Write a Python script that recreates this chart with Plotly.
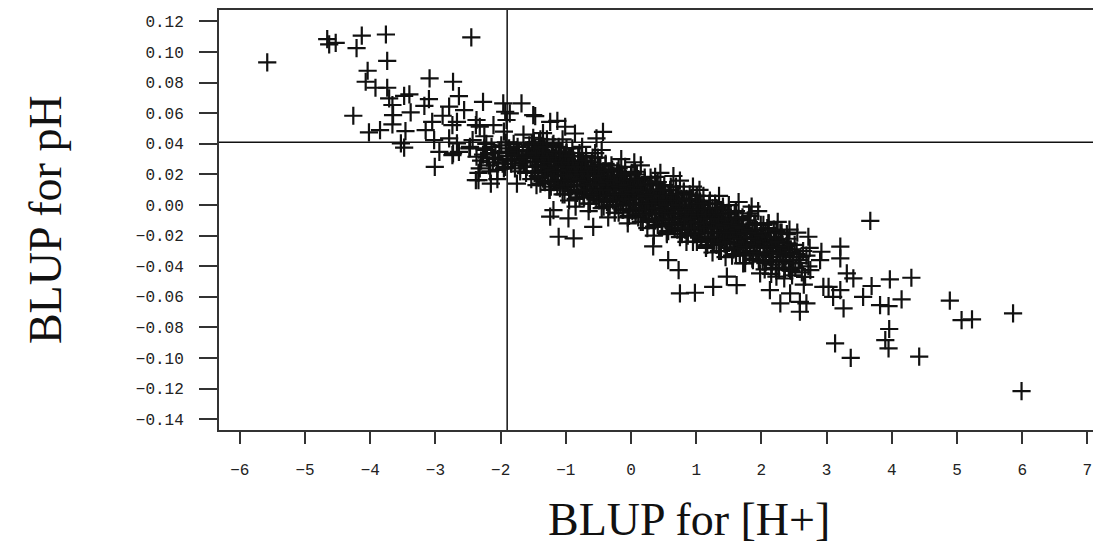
import plotly.graph_objects as go

# reference lines
ref_x = -1.9
ref_y = 0.041

# axis ticks
x_ticks = [-6, -5, -4, -3, -2, -1, 0, 1, 2, 3, 4, 5, 6, 7]
y_ticks = [-0.14, -0.12, -0.10, -0.08, -0.06, -0.04, -0.02, 0.00,
           0.02, 0.04, 0.06, 0.08, 0.10, 0.12]

# scattered points (upper-left arm)
upper_x = [-5.58, -4.66, -4.63, -4.53, -4.13, -4.21, -3.76, -3.74, -2.45, -4.04,
           -4.07, -3.92, -3.74, -3.71, -3.66, -3.48, -3.40, -3.09, -2.73, -2.64,
           -3.10, -3.17, -2.79, -2.56, -3.38, -3.65, -4.26, -2.89, -3.66, -3.46,
           -4.02, -3.85, -3.15, -3.05, -2.74, -2.67, -3.53, -3.48, -3.01, -3.02,
           -2.94, -2.74, -2.64, -2.48, -2.38, -2.79, -2.43, -2.38,
           -2.27, -1.96, -1.68, -1.93, -2.37, -2.32, -2.11, -1.91, -2.47, -2.37,
           -2.73, -2.67, -2.34, -1.86, -1.47, -1.24, -1.13, -1.01, -0.86, -0.43,
           -0.53, -1.50]
upper_y = [0.0933, 0.1085, 0.1050, 0.1060, 0.1107, 0.1026, 0.1115, 0.0943, 0.1096, 0.0878,
           0.0806, 0.0767, 0.0767, 0.0697, 0.0654, 0.0714, 0.0723, 0.0828, 0.0806, 0.0712,
           0.0693, 0.0649, 0.0643, 0.0621, 0.0606, 0.0588, 0.0584, 0.0584, 0.0527, 0.0484,
           0.0475, 0.0490, 0.0490, 0.0544, 0.0523, 0.0544, 0.0403, 0.0375, 0.0250, 0.0425,
           0.0348, 0.0327, 0.0348, 0.0370, 0.0523, 0.0436, 0.0425, 0.0163,
           0.0675, 0.0665, 0.0665, 0.0610, 0.0556, 0.0512, 0.0523, 0.0556, 0.0380, 0.0316,
           0.0338, 0.0403, 0.0163, 0.0600, 0.0582, 0.0544, 0.0550, 0.0512, 0.0468, 0.0479,
           0.0436, 0.0588]

# scattered points round the band and the lower-right tail
tail_x = [-1.11, -0.88, -0.96, -1.19, -1.24, -0.58,
          0.06, 0.37, 0.65, 1.06, 1.39, 1.81, 2.11, 2.72, 2.92,
          0.75, 0.98, 1.26, 0.73, 0.57, 0.34, 1.62, 1.47, 2.23, 2.29, 2.75, 2.95, 3.10,
          3.67, 3.21, 3.97, 4.30, 3.69, 3.56, 3.82, 3.95, 4.15, 4.89, 5.07, 5.23,
          5.86, 5.99, 3.13, 3.37, 3.96, 3.90, 3.95, 4.42, 2.59, 2.69, 3.03, 3.21,
          3.26, 3.31, 3.41, 2.90, 3.21, 2.44, 2.13, 2.44, 2.59, 1.93, 2.08, 2.34,
          2.59, 1.72, 1.98, 1.37, 1.52]
tail_y = [-0.0207, -0.0218, -0.0087, -0.0033, -0.0076, -0.0142,
          0.0218, 0.0185, 0.0190, 0.0022, -0.0033, -0.0054, -0.0120, -0.0207, -0.0305,
          -0.0577, -0.0573, -0.0534, -0.0425, -0.0360, -0.0270, -0.0523, -0.0468, -0.0468,
          -0.0643, -0.0425, -0.0534, -0.0600,
          -0.0103, -0.0272, -0.0486, -0.0475, -0.0529, -0.0600, -0.0654, -0.0660, -0.0616,
          -0.0625, -0.0752, -0.0747, -0.0708, -0.1216, -0.0904, -0.0998, -0.0810, -0.0882,
          -0.0937, -0.0991, -0.0697, -0.0643, -0.0534, -0.0556, -0.0675, -0.0446, -0.0479,
          -0.0360, -0.0348, -0.0425, -0.0556, -0.0577, -0.0632, -0.0163, -0.0250, -0.0294,
          -0.0360, -0.0381, -0.0446, -0.0033, -0.0142]

# loose points along both edges of the band
edge_x = [-1.35, -1.25, -1.05, -0.95, -0.75, -0.65, -0.45, -0.35, -0.15, -0.05,
          0.15, 0.25, 0.45, 0.55, 0.75, 0.85, 1.05, 1.15, 1.35, 1.45,
          1.65, 1.75, 1.95, 2.05, 2.25, 2.35, 2.55, 2.65, -1.65, -1.75,
          -1.95, -2.05, -2.25, -2.15, 0.05, 0.35, 0.95, 1.25, 1.85, 2.15,
          -0.55, -0.85]
edge_y = [0.047, 0.010, 0.043, 0.003, 0.038, -0.004, 0.036, -0.008, 0.030, -0.012,
          0.026, -0.015, 0.021, -0.019, 0.016, -0.024, 0.010, -0.028, 0.006, -0.034,
          0.002, -0.038, -0.004, -0.042, -0.011, -0.048, -0.018, -0.052, 0.046, 0.014,
          0.048, 0.017, 0.045, 0.014, 0.028, -0.020, 0.012, -0.031, -0.001, -0.045,
          0.034, -0.001]

# dense band, left end
band_left_x = [-2.32, -2.27, -2.30, -2.25, -2.34, -2.21, -2.18, -2.24, -2.16, -2.22,
               -2.12, -2.08, -2.05, -2.14, -2.10, -2.02, -1.97, -2.04, -1.99, -1.95,
               -1.91, -1.87, -1.93, -1.89, -1.85, -1.92, -1.82, -1.78, -1.76, -1.80,
               -1.84, -1.79, -1.72, -1.68, -1.70, -1.74, -1.66, -1.71, -1.62, -1.58,
               -1.60, -1.64, -1.56, -1.61, -1.59]
band_left_y = [0.024, 0.033, 0.029, 0.037, 0.021, 0.031, 0.026, 0.036, 0.022, 0.040,
               0.028, 0.034, 0.023, 0.038, 0.031, 0.035, 0.027, 0.030, 0.039, 0.024,
               0.032, 0.037, 0.025, 0.029, 0.034, 0.041, 0.030, 0.024, 0.036, 0.040,
               0.027, 0.033, 0.035, 0.029, 0.022, 0.038, 0.032, 0.026, 0.031, 0.036,
               0.025, 0.028, 0.039, 0.021, 0.033]

# dense band, middle (one row per column of the cloud)
band_mid_x = [
    -1.53, -1.48, -1.51, -1.46, -1.54, -1.49, -1.47, -1.52, -1.50,
    -1.39, -1.43, -1.36, -1.42, -1.38, -1.44, -1.40, -1.37, -1.41,
    -1.32, -1.27, -1.30, -1.34, -1.26, -1.31, -1.28, -1.33, -1.29,
    -1.23, -1.18, -1.21, -1.16, -1.24, -1.19, -1.17, -1.22, -1.20,
    -1.09, -1.13, -1.06, -1.12, -1.08, -1.14, -1.10, -1.07, -1.11,
    -1.02, -0.97, -1.00, -1.04, -0.96, -1.01, -0.98, -1.03, -0.99,
    -0.93, -0.88, -0.91, -0.86, -0.94, -0.89, -0.87, -0.92, -0.90,
    -0.79, -0.83, -0.76, -0.82, -0.78, -0.84, -0.80, -0.77, -0.81,
    -0.72, -0.67, -0.70, -0.74, -0.66, -0.71, -0.68, -0.73, -0.69,
    -0.63, -0.58, -0.61, -0.56, -0.64, -0.59, -0.57, -0.62, -0.60,
    -0.49, -0.53, -0.46, -0.52, -0.48, -0.54, -0.50, -0.47, -0.51,
    -0.42, -0.37, -0.40, -0.44, -0.36, -0.41, -0.38, -0.43, -0.39,
    -0.33, -0.28, -0.31, -0.26, -0.34, -0.29, -0.27, -0.32, -0.30,
    -0.19, -0.23, -0.16, -0.22, -0.18, -0.24, -0.20, -0.17, -0.21,
    -0.12, -0.07, -0.10, -0.14, -0.06, -0.11, -0.08, -0.13, -0.09,
    -0.03, 0.02, -0.01, 0.04, -0.04, 0.01, 0.03, -0.02, 0.00,
    0.11, 0.07, 0.14, 0.08, 0.12, 0.06, 0.10, 0.13, 0.09,
    0.18, 0.23, 0.20, 0.16, 0.24, 0.19, 0.22, 0.17, 0.21,
    0.27, 0.32, 0.29, 0.34, 0.26, 0.31, 0.33, 0.28, 0.30,
    0.41, 0.37, 0.44, 0.38, 0.42, 0.36, 0.40, 0.43, 0.39,
    0.48, 0.53, 0.50, 0.46, 0.54, 0.49, 0.52, 0.47, 0.51,
    0.57, 0.62, 0.59, 0.64, 0.56, 0.61, 0.63, 0.58, 0.60,
    0.71, 0.67, 0.74, 0.68, 0.72, 0.66, 0.70, 0.73, 0.69,
    0.78, 0.83, 0.80, 0.76, 0.84, 0.79, 0.82, 0.77, 0.81,
    0.87, 0.92, 0.89, 0.94, 0.86, 0.91, 0.93, 0.88, 0.90,
    1.01, 0.97, 1.04, 0.98, 1.02, 0.96, 1.00, 1.03, 0.99,
    1.08, 1.13, 1.10, 1.06, 1.14, 1.09, 1.12, 1.07, 1.11,
    1.17, 1.22, 1.19, 1.24, 1.16, 1.21, 1.23, 1.18, 1.20,
    1.31, 1.27, 1.34, 1.28, 1.32, 1.26, 1.30, 1.33, 1.29,
    1.38, 1.43, 1.40, 1.36, 1.44, 1.39, 1.42, 1.37, 1.41,
    1.47, 1.52, 1.49, 1.54, 1.46, 1.51, 1.53, 1.48, 1.50,
    1.61, 1.57, 1.64, 1.58, 1.62, 1.56, 1.60, 1.63, 1.59,
]
band_mid_y = [
    0.017, 0.021, 0.025, 0.028, 0.031, 0.034, 0.037, 0.040, 0.044,
    0.014, 0.019, 0.022, 0.026, 0.029, 0.032, 0.035, 0.038, 0.041,
    0.015, 0.019, 0.023, 0.026, 0.029, 0.032, 0.035, 0.038, 0.043,
    0.012, 0.015, 0.020, 0.023, 0.025, 0.029, 0.031, 0.035, 0.039,
    0.011, 0.015, 0.019, 0.022, 0.025, 0.028, 0.031, 0.034, 0.038,
    0.007, 0.012, 0.015, 0.019, 0.022, 0.025, 0.028, 0.031, 0.034,
    0.009, 0.013, 0.017, 0.020, 0.023, 0.026, 0.029, 0.032, 0.037,
    0.005, 0.008, 0.013, 0.016, 0.018, 0.022, 0.024, 0.028, 0.032,
    0.005, 0.009, 0.013, 0.016, 0.019, 0.022, 0.025, 0.028, 0.032,
    0.001, 0.006, 0.009, 0.013, 0.016, 0.019, 0.022, 0.025, 0.028,
    0.003, 0.007, 0.011, 0.014, 0.017, 0.020, 0.023, 0.026, 0.031,
    -0.001, 0.002, 0.007, 0.010, 0.012, 0.016, 0.018, 0.022, 0.026,
    -0.001, 0.003, 0.007, 0.010, 0.013, 0.016, 0.019, 0.022, 0.026,
    -0.005, 0.000, 0.003, 0.007, 0.010, 0.013, 0.016, 0.019, 0.022,
    -0.003, 0.001, 0.005, 0.008, 0.011, 0.014, 0.017, 0.020, 0.025,
    -0.007, -0.004, 0.001, 0.004, 0.006, 0.010, 0.012, 0.016, 0.020,
    -0.008, -0.004, 0.001, 0.004, 0.007, 0.010, 0.013, 0.016, 0.020,
    -0.011, -0.006, -0.003, 0.001, 0.004, 0.007, 0.010, 0.013, 0.016,
    -0.010, -0.006, -0.002, 0.001, 0.004, 0.007, 0.010, 0.013, 0.018,
    -0.013, -0.010, -0.005, -0.002, 0.000, 0.004, 0.006, 0.010, 0.014,
    -0.014, -0.010, -0.006, -0.003, 0.000, 0.003, 0.006, 0.009, 0.013,
    -0.017, -0.012, -0.009, -0.005, -0.002, 0.001, 0.004, 0.007, 0.010,
    -0.016, -0.012, -0.008, -0.005, -0.002, 0.001, 0.004, 0.007, 0.012,
    -0.019, -0.016, -0.011, -0.008, -0.006, -0.002, 0.000, 0.004, 0.008,
    -0.020, -0.016, -0.012, -0.009, -0.006, -0.003, 0.000, 0.003, 0.007,
    -0.024, -0.019, -0.016, -0.012, -0.009, -0.006, -0.003, 0.000, 0.003,
    -0.022, -0.018, -0.014, -0.011, -0.008, -0.005, -0.002, 0.001, 0.006,
    -0.026, -0.023, -0.018, -0.015, -0.013, -0.009, -0.007, -0.003, 0.001,
    -0.026, -0.022, -0.018, -0.015, -0.012, -0.009, -0.006, -0.003, 0.001,
    -0.030, -0.025, -0.022, -0.018, -0.015, -0.012, -0.009, -0.006, -0.003,
    -0.028, -0.024, -0.020, -0.017, -0.014, -0.011, -0.008, -0.005, 0.000,
    -0.032, -0.029, -0.024, -0.021, -0.019, -0.015, -0.013, -0.009, -0.005,
]

# dense band, middle, second layer of points between the first columns
band_fill_x = [
    -1.45, -1.42, -1.47, -1.43, -1.48, -1.44, -1.46, -1.41, -1.49,
    -1.33, -1.36, -1.32, -1.38, -1.34, -1.37, -1.31, -1.35, -1.39,
    -1.25, -1.22, -1.27, -1.23, -1.28, -1.24, -1.26, -1.21, -1.29,
    -1.13, -1.16, -1.12, -1.18, -1.14, -1.17, -1.11, -1.15, -1.19,
    -1.05, -1.02, -1.07, -1.03, -1.08, -1.04, -1.06, -1.01, -1.09,
    -0.93, -0.96, -0.92, -0.98, -0.94, -0.97, -0.91, -0.95, -0.99,
    -0.85, -0.82, -0.87, -0.83, -0.88, -0.84, -0.86, -0.81, -0.89,
    -0.73, -0.76, -0.72, -0.78, -0.74, -0.77, -0.71, -0.75, -0.79,
    -0.65, -0.62, -0.67, -0.63, -0.68, -0.64, -0.66, -0.61, -0.69,
    -0.53, -0.56, -0.52, -0.58, -0.54, -0.57, -0.51, -0.55, -0.59,
    -0.45, -0.42, -0.47, -0.43, -0.48, -0.44, -0.46, -0.41, -0.49,
    -0.33, -0.36, -0.32, -0.38, -0.34, -0.37, -0.31, -0.35, -0.39,
    -0.25, -0.22, -0.27, -0.23, -0.28, -0.24, -0.26, -0.21, -0.29,
    -0.13, -0.16, -0.12, -0.18, -0.14, -0.17, -0.11, -0.15, -0.19,
    -0.05, -0.02, -0.07, -0.03, -0.08, -0.04, -0.06, -0.01, -0.09,
    0.07, 0.04, 0.08, 0.02, 0.06, 0.03, 0.09, 0.05, 0.01,
    0.15, 0.18, 0.13, 0.17, 0.12, 0.16, 0.14, 0.19, 0.11,
    0.27, 0.24, 0.28, 0.22, 0.26, 0.23, 0.29, 0.25, 0.21,
    0.35, 0.38, 0.33, 0.37, 0.32, 0.36, 0.34, 0.39, 0.31,
    0.47, 0.44, 0.48, 0.42, 0.46, 0.43, 0.49, 0.45, 0.41,
    0.55, 0.58, 0.53, 0.57, 0.52, 0.56, 0.54, 0.59, 0.51,
    0.67, 0.64, 0.68, 0.62, 0.66, 0.63, 0.69, 0.65, 0.61,
    0.75, 0.78, 0.73, 0.77, 0.72, 0.76, 0.74, 0.79, 0.71,
    0.87, 0.84, 0.88, 0.82, 0.86, 0.83, 0.89, 0.85, 0.81,
    0.95, 0.98, 0.93, 0.97, 0.92, 0.96, 0.94, 0.99, 0.91,
    1.07, 1.04, 1.08, 1.02, 1.06, 1.03, 1.09, 1.05, 1.01,
    1.15, 1.18, 1.13, 1.17, 1.12, 1.16, 1.14, 1.19, 1.11,
    1.27, 1.24, 1.28, 1.22, 1.26, 1.23, 1.29, 1.25, 1.21,
    1.35, 1.38, 1.33, 1.37, 1.32, 1.36, 1.34, 1.39, 1.31,
    1.47, 1.44, 1.48, 1.42, 1.46, 1.43, 1.49, 1.45, 1.41,
    1.55, 1.58, 1.53, 1.57, 1.52, 1.56, 1.54, 1.59, 1.51,
    1.67, 1.64, 1.68, 1.62, 1.66, 1.63, 1.69, 1.65, 1.61,
]
band_fill_y = [
    0.013, 0.018, 0.022, 0.025, 0.028, 0.031, 0.034, 0.037, 0.041,
    0.016, 0.019, 0.022, 0.026, 0.029, 0.031, 0.034, 0.038, 0.043,
    0.010, 0.015, 0.019, 0.022, 0.025, 0.028, 0.031, 0.034, 0.038,
    0.013, 0.016, 0.019, 0.023, 0.026, 0.028, 0.031, 0.035, 0.040,
    0.007, 0.012, 0.016, 0.019, 0.022, 0.025, 0.028, 0.031, 0.035,
    0.010, 0.013, 0.016, 0.020, 0.023, 0.025, 0.028, 0.032, 0.037,
    0.004, 0.009, 0.013, 0.016, 0.019, 0.022, 0.025, 0.028, 0.032,
    0.007, 0.010, 0.013, 0.017, 0.020, 0.022, 0.025, 0.029, 0.034,
    0.001, 0.006, 0.010, 0.013, 0.016, 0.019, 0.022, 0.025, 0.029,
    0.004, 0.007, 0.010, 0.014, 0.017, 0.019, 0.022, 0.026, 0.031,
    -0.002, 0.003, 0.007, 0.010, 0.013, 0.016, 0.019, 0.022, 0.026,
    0.000, 0.003, 0.006, 0.010, 0.013, 0.015, 0.018, 0.022, 0.027,
    -0.005, 0.000, 0.004, 0.007, 0.010, 0.013, 0.016, 0.019, 0.023,
    -0.003, 0.000, 0.003, 0.007, 0.010, 0.012, 0.015, 0.019, 0.024,
    -0.008, -0.003, 0.001, 0.004, 0.007, 0.010, 0.013, 0.016, 0.020,
    -0.006, -0.003, 0.000, 0.004, 0.007, 0.009, 0.012, 0.016, 0.021,
    -0.011, -0.006, -0.002, 0.001, 0.004, 0.007, 0.010, 0.013, 0.017,
    -0.009, -0.006, -0.003, 0.001, 0.004, 0.006, 0.009, 0.013, 0.018,
    -0.014, -0.009, -0.005, -0.002, 0.001, 0.004, 0.007, 0.010, 0.014,
    -0.012, -0.009, -0.006, -0.002, 0.001, 0.003, 0.006, 0.010, 0.015,
    -0.018, -0.013, -0.009, -0.006, -0.003, 0.000, 0.003, 0.006, 0.010,
    -0.015, -0.012, -0.009, -0.005, -0.002, 0.000, 0.003, 0.007, 0.012,
    -0.021, -0.016, -0.012, -0.009, -0.006, -0.003, 0.000, 0.003, 0.007,
    -0.018, -0.015, -0.012, -0.008, -0.005, -0.003, 0.000, 0.004, 0.009,
    -0.024, -0.019, -0.015, -0.012, -0.009, -0.006, -0.003, 0.000, 0.004,
    -0.021, -0.018, -0.015, -0.011, -0.008, -0.006, -0.003, 0.001, 0.006,
    -0.027, -0.022, -0.018, -0.015, -0.012, -0.009, -0.006, -0.003, 0.001,
    -0.024, -0.021, -0.018, -0.014, -0.011, -0.009, -0.006, -0.002, 0.003,
    -0.030, -0.025, -0.021, -0.018, -0.015, -0.012, -0.009, -0.006, -0.002,
    -0.028, -0.025, -0.022, -0.018, -0.015, -0.013, -0.010, -0.006, -0.001,
    -0.033, -0.028, -0.024, -0.021, -0.018, -0.015, -0.012, -0.009, -0.005,
    -0.031, -0.028, -0.025, -0.021, -0.018, -0.016, -0.013, -0.009, -0.004,
]

# dense band, right end
band_right_x = [1.67, 1.72, 1.69, 1.74, 1.66, 1.71,
                1.76, 1.73, 1.78, 1.75, 1.72, 1.79,
                1.82, 1.77, 1.84, 1.78, 1.80, 1.83,
                1.86, 1.83, 1.88, 1.85, 1.82, 1.89,
                1.87, 1.92, 1.89, 1.94, 1.86, 1.91,
                1.96, 1.93, 1.98, 1.95, 1.92, 1.99,
                2.02, 1.97, 2.04, 1.98, 2.00, 2.03,
                2.06, 2.03, 2.08, 2.05, 2.02, 2.09,
                2.07, 2.12, 2.09, 2.14, 2.06, 2.11,
                2.16, 2.13, 2.18, 2.15, 2.12, 2.19,
                2.22, 2.17, 2.24, 2.18, 2.20, 2.23,
                2.26, 2.23, 2.28, 2.25, 2.22, 2.29,
                2.27, 2.32, 2.29, 2.34, 2.26, 2.31,
                2.36, 2.33, 2.38, 2.35, 2.32, 2.39,
                2.42, 2.37, 2.44, 2.38, 2.40, 2.43,
                2.46, 2.43, 2.48, 2.45, 2.42,
                2.47, 2.52, 2.49, 2.54, 2.51,
                2.62, 2.57, 2.64, 2.60,
                2.67, 2.72, 2.69, 2.74]
band_right_y = [-0.032, -0.026, -0.022, -0.018, -0.014, -0.008,
                -0.033, -0.028, -0.024, -0.019, -0.015, -0.010,
                -0.032, -0.027, -0.022, -0.018, -0.013, -0.007,
                -0.035, -0.030, -0.025, -0.021, -0.017, -0.012,
                -0.036, -0.031, -0.026, -0.022, -0.016, -0.012,
                -0.036, -0.031, -0.027, -0.022, -0.018, -0.013,
                -0.037, -0.031, -0.027, -0.023, -0.019, -0.013,
                -0.038, -0.033, -0.028, -0.024, -0.020, -0.015,
                -0.037, -0.032, -0.027, -0.023, -0.018, -0.012,
                -0.039, -0.034, -0.030, -0.025, -0.021, -0.016,
                -0.041, -0.036, -0.031, -0.027, -0.021, -0.017,
                -0.041, -0.036, -0.031, -0.027, -0.023, -0.018,
                -0.042, -0.036, -0.032, -0.028, -0.024, -0.018,
                -0.042, -0.037, -0.033, -0.028, -0.024, -0.019,
                -0.041, -0.036, -0.031, -0.027, -0.022, -0.016,
                -0.043, -0.038, -0.034, -0.029, -0.025,
                -0.046, -0.041, -0.036, -0.032, -0.026,
                -0.044, -0.038, -0.030, -0.034,
                -0.047, -0.040, -0.033, -0.028]

all_x = (upper_x + tail_x + edge_x + band_left_x + band_mid_x
         + band_fill_x + band_right_x)
all_y = (upper_y + tail_y + edge_y + band_left_y + band_mid_y
         + band_fill_y + band_right_y)

fig = go.Figure()
fig.add_trace(go.Scatter(
    x=all_x, y=all_y, mode="markers",
    marker=dict(symbol="cross-thin", size=13, color="#111111",
                line=dict(color="#111111", width=2.2)),
    showlegend=False, hoverinfo="skip"))

# the two reference lines
fig.add_vline(x=ref_x, line=dict(color="#111111", width=1.5))
fig.add_hline(y=ref_y, line=dict(color="#111111", width=1.5))

tick_font = dict(family="Liberation Mono", size=16, color="#222222")
title_font = dict(family="Liberation Serif", size=46, color="#111111")

fig.update_xaxes(range=[-6.32, 7.086], tickvals=x_ticks, automargin=False,
                 showline=True, linecolor="#333333", linewidth=2, mirror=True,
                 ticks="outside", ticklen=12, tickwidth=1.5, tickcolor="#333333",
                 ticklabelstandoff=12, tickfont=tick_font,
                 showgrid=False, zeroline=False)
fig.update_yaxes(range=[-0.147, 0.1275], tickvals=y_ticks, tickformat=".2f",
                 automargin=False,
                 showline=True, linecolor="#333333", linewidth=2,
                 ticks="outside", ticklen=18, tickwidth=1.5, tickcolor="#333333",
                 ticklabelstandoff=12, tickfont=tick_font,
                 showgrid=False, zeroline=False)

fig.add_annotation(text="BLUP for pH", xref="paper", yref="paper",
                   x=-0.199, y=0.5, textangle=-90, showarrow=False,
                   xanchor="center", yanchor="middle", font=title_font)
fig.add_annotation(text="BLUP for [H+]", xref="paper", yref="paper",
                   x=0.538, y=-0.214, showarrow=False,
                   xanchor="center", yanchor="middle", font=title_font)

fig.update_layout(width=1093, height=550,
                  margin=dict(l=219, r=0, t=10, b=120),
                  plot_bgcolor="white", paper_bgcolor="white")

# drop the page's default body margin so the figure fills the window exactly
fig.write_html("out.html",
               config={"displayModeBar": False},
               post_script="document.body.style.margin='0';"
                           "document.body.style.overflow='hidden';")
